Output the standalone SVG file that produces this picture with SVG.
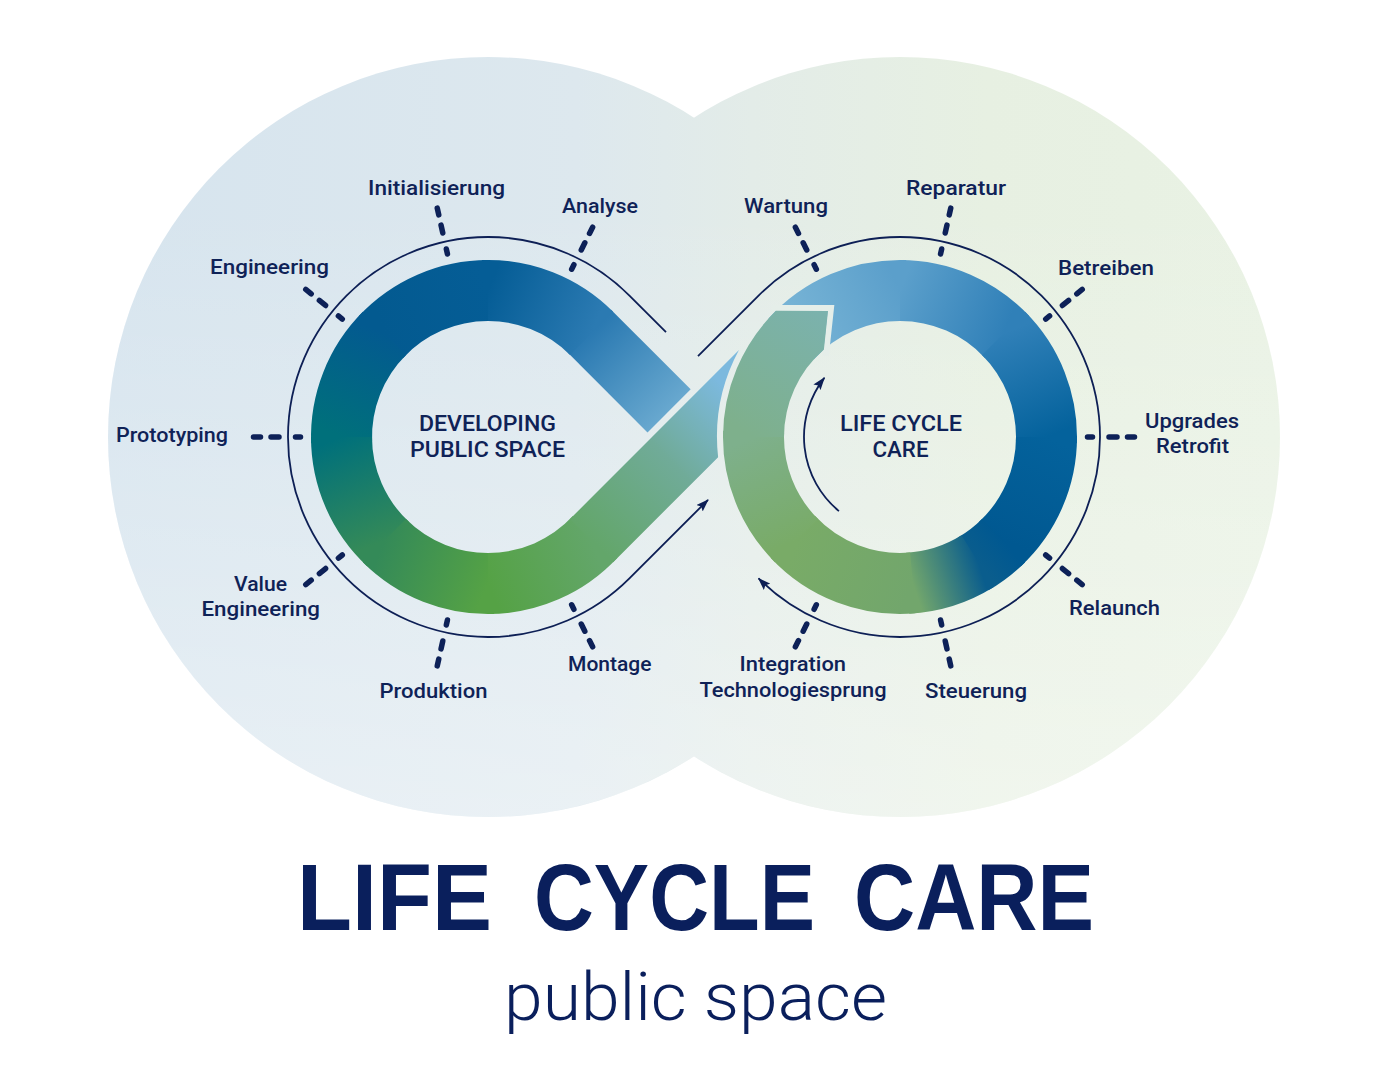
<svg xmlns="http://www.w3.org/2000/svg" width="1389" height="1080" viewBox="0 0 1389 1080">
<style>
.band{fill:none;stroke-width:61;stroke-linecap:butt}
.thin{fill:none;stroke:#0d1f55;stroke-width:1.8}
.tick{fill:none;stroke:#0d2158;stroke-width:5.5;stroke-linecap:round}
.lbl{font-family:Roboto,'Liberation Sans',sans-serif;font-weight:500;font-size:21px;fill:#0f2257}
.ctr{font-family:Roboto,'Liberation Sans',sans-serif;font-weight:500;font-size:22px;fill:#0f2257}
.title{font-family:'Liberation Sans',Arial,sans-serif;font-weight:700;font-size:94px;fill:#0a1f5c}
.sub{font-family:Roboto,'Open Sans','Liberation Sans',sans-serif;font-weight:300;font-size:66px;fill:#0a1f5c}
</style>
<defs>
<linearGradient id="bg" gradientUnits="userSpaceOnUse" x1="108" y1="437" x2="1280" y2="437">
<stop offset="0" stop-color="#d6e4ee"/><stop offset="0.4" stop-color="#dde8ee"/><stop offset="0.55" stop-color="#e3ece8"/><stop offset="0.75" stop-color="#e7f0e2"/><stop offset="1" stop-color="#e9f2e4"/>
</linearGradient>
<linearGradient id="bgFade" gradientUnits="userSpaceOnUse" x1="0" y1="200" x2="0" y2="820">
<stop offset="0" stop-color="#ffffff" stop-opacity="0"/><stop offset="1" stop-color="#ffffff" stop-opacity="0.4"/>
</linearGradient>
<clipPath id="bgClip"><circle cx="488" cy="437" r="380"/><circle cx="900" cy="437" r="380"/></clipPath>
<linearGradient id="gA" gradientUnits="userSpaceOnUse" x1="669.09" y1="410.91" x2="591.59" y2="333.41"><stop offset="0" stop-color="#68a8cf"/><stop offset="1" stop-color="#2b7ab2"/></linearGradient>
<linearGradient id="gB" gradientUnits="userSpaceOnUse" x1="591.59" y1="333.41" x2="488" y2="290.5"><stop offset="0" stop-color="#2b7ab2"/><stop offset="1" stop-color="#055d96"/></linearGradient>
<linearGradient id="gC" gradientUnits="userSpaceOnUse" x1="488" y1="290.5" x2="384.41" y2="333.41"><stop offset="0" stop-color="#055d96"/><stop offset="1" stop-color="#035a90"/></linearGradient>
<linearGradient id="gD" gradientUnits="userSpaceOnUse" x1="384.41" y1="333.41" x2="341.5" y2="437"><stop offset="0" stop-color="#035a90"/><stop offset="1" stop-color="#00707b"/></linearGradient>
<linearGradient id="gE" gradientUnits="userSpaceOnUse" x1="341.5" y1="437" x2="384.41" y2="540.59"><stop offset="0" stop-color="#00707b"/><stop offset="1" stop-color="#348a58"/></linearGradient>
<linearGradient id="gF" gradientUnits="userSpaceOnUse" x1="384.41" y1="540.59" x2="488" y2="583.5"><stop offset="0" stop-color="#348a58"/><stop offset="1" stop-color="#55a245"/></linearGradient>
<linearGradient id="gG" gradientUnits="userSpaceOnUse" x1="488" y1="583.5" x2="591.59" y2="540.59"><stop offset="0" stop-color="#55a245"/><stop offset="1" stop-color="#63a66a"/></linearGradient>
<linearGradient id="gDiag" gradientUnits="userSpaceOnUse" x1="591.59" y1="540.59" x2="735" y2="397"><stop offset="0" stop-color="#63a66a"/><stop offset="0.55" stop-color="#70ab98"/><stop offset="1" stop-color="#7cb9de"/></linearGradient>
<linearGradient id="gR1" gradientUnits="userSpaceOnUse" x1="791.13" y1="338.98" x2="900" y2="290.5"><stop offset="0" stop-color="#79b5d6"/><stop offset="1" stop-color="#5b9fcb"/></linearGradient>
<linearGradient id="gR2" gradientUnits="userSpaceOnUse" x1="900" y1="290.5" x2="1003.59" y2="333.41"><stop offset="0" stop-color="#5b9fcb"/><stop offset="1" stop-color="#3080b8"/></linearGradient>
<linearGradient id="gR3" gradientUnits="userSpaceOnUse" x1="1003.59" y1="333.41" x2="1046.5" y2="437"><stop offset="0" stop-color="#3080b8"/><stop offset="1" stop-color="#04629c"/></linearGradient>
<linearGradient id="gR4" gradientUnits="userSpaceOnUse" x1="1046.5" y1="437" x2="1003.59" y2="540.59"><stop offset="0" stop-color="#04629c"/><stop offset="1" stop-color="#005891"/></linearGradient>
<linearGradient id="gR5" gradientUnits="userSpaceOnUse" x1="1003.59" y1="540.59" x2="977.63" y2="561.23"><stop offset="0" stop-color="#005891"/><stop offset="1" stop-color="#0a5d8d"/></linearGradient>
<linearGradient id="gRT" gradientUnits="userSpaceOnUse" x1="977.63" y1="561.23" x2="912.77" y2="582.94"><stop offset="0" stop-color="#0a5d8d"/><stop offset="1" stop-color="#72a66c"/></linearGradient>
<linearGradient id="gRG1" gradientUnits="userSpaceOnUse" x1="912.77" y1="582.94" x2="796.41" y2="540.59"><stop offset="0" stop-color="#72a66c"/><stop offset="1" stop-color="#79ab67"/></linearGradient>
<linearGradient id="gRG2" gradientUnits="userSpaceOnUse" x1="796.41" y1="540.59" x2="753.5" y2="437"><stop offset="0" stop-color="#79ab67"/><stop offset="1" stop-color="#7eb08c"/></linearGradient>
<linearGradient id="gRG3" gradientUnits="userSpaceOnUse" x1="753.5" y1="437" x2="828" y2="311"><stop offset="0" stop-color="#7eb08c"/><stop offset="1" stop-color="#7bb2ae"/></linearGradient>
<marker id="arrow" viewBox="0 0 13 9" refX="12" refY="4.5" markerWidth="13" markerHeight="9" markerUnits="userSpaceOnUse" orient="auto"><path d="M0,0 L13,4.5 L0,9 L2.5,4.5 Z" fill="#0d1f55"/></marker>
</defs>

<g id="background">
<circle cx="488" cy="437" r="380" fill="url(#bg)"/>
<circle cx="900" cy="437" r="380" fill="url(#bg)"/>
<rect x="100" y="50" width="1190" height="780" fill="url(#bgFade)" clip-path="url(#bgClip)"/>
</g>

<g id="developing-loop">
<path class="band" stroke="url(#gA)" d="M669.09,410.91 L589.5,331.3"/>
<path class="band" stroke="url(#gB)" d="M591.59,333.41 A146.5,146.5 0 0 0 482.89,290.59"/>
<path class="band" stroke="url(#gC)" d="M488,290.5 A146.5,146.5 0 0 0 380.85,337.09"/>
<path class="band" stroke="url(#gD)" d="M384.41,333.41 A146.5,146.5 0 0 0 341.59,442.11"/>
<path class="band" stroke="url(#gE)" d="M341.5,437 A146.5,146.5 0 0 0 388.09,544.15"/>
<path class="band" stroke="url(#gF)" d="M384.41,540.59 A146.5,146.5 0 0 0 493.11,583.41"/>
<path class="band" stroke="url(#gG)" d="M488,583.5 A146.5,146.5 0 0 0 595.15,536.91"/>
<path fill="url(#gDiag)" d="M570.02,519.02 L738.96,350.08 A183,183 0 0 0 718.12,457.2 L613.16,562.16 Z"/>
</g>

<g id="lifecycle-loop">
<path class="band" stroke="url(#gR1)" d="M791.13,338.98 A146.5,146.5 0 0 1 905.11,290.59"/>
<path class="band" stroke="url(#gR2)" d="M900,290.5 A146.5,146.5 0 0 1 1007.15,337.09"/>
<path class="band" stroke="url(#gR3)" d="M1003.59,333.41 A146.5,146.5 0 0 1 1046.41,442.11"/>
<path class="band" stroke="url(#gR4)" d="M1046.5,437 A146.5,146.5 0 0 1 999.91,544.15"/>
<path class="band" stroke="url(#gR5)" d="M1003.59,540.59 A146.5,146.5 0 0 1 973.25,563.87"/>
<path class="band" stroke="url(#gRT)" d="M977.63,561.23 A146.5,146.5 0 0 1 907.67,583.3"/>
<path class="band" stroke="url(#gRG1)" d="M912.77,582.94 A146.5,146.5 0 0 1 792.85,536.91"/>
<path class="band" stroke="url(#gRG2)" d="M796.41,540.59 A146.5,146.5 0 0 1 753.59,431.89"/>
<path fill="none" stroke="#e5eee9" stroke-width="6" d="M772,308 L831,308 L825.8,356"/>
<path fill="url(#gRG3)" d="M723,437 A177,177 0 0 1 775.94,310.75 L828,311 L823.9,349.45 A116,116 0 0 0 784,437 Z"/>
</g>

<g id="connectors">
<path class="thin" marker-end="url(#arrow)" d="M666,332.16 L629.42,295.58 A200,200 0 1 0 629.42,578.42 L708,499.84"/>
<path class="thin" marker-end="url(#arrow)" d="M698,356.16 L758.58,295.58 A200,200 0 1 1 758.58,578.42"/>
<path class="thin" marker-end="url(#arrow)" d="M838.94,511.08 A96,96 0 0 1 824.35,377.89"/>
</g>

<g id="node-developing">
<text class="ctr" x="419" y="431" textLength="137" lengthAdjust="spacingAndGlyphs">DEVELOPING</text>
<text class="ctr" x="410" y="457" textLength="155" lengthAdjust="spacingAndGlyphs">PUBLIC SPACE</text>
</g>
<g id="node-lifecycle">
<text class="ctr" x="840" y="431" textLength="122" lengthAdjust="spacingAndGlyphs">LIFE CYCLE</text>
<text class="ctr" x="872.5" y="457" textLength="56" lengthAdjust="spacingAndGlyphs">CARE</text>
</g>

<g id="node-initialisierung">
<path class="tick" d="M447.42,253.94 L446.34,249.06 M442.77,232.95 L441.04,225.14 M438.77,214.89 L437.25,208.06"/>
<text class="lbl" x="368" y="195" textLength="137" lengthAdjust="spacingAndGlyphs">Initialisierung</text>
</g>
<g id="node-analyse">
<path class="tick" d="M571.66,269.21 L573.89,264.73 M581.26,249.97 L584.83,242.81 M589.51,233.41 L592.63,227.15"/>
<text class="lbl" x="562" y="213" textLength="76" lengthAdjust="spacingAndGlyphs">Analyse</text>
</g>
<g id="node-engineering">
<path class="tick" d="M342.29,319.01 L338.41,315.86 M325.59,305.48 L319.37,300.44 M311.21,293.83 L305.77,289.43"/>
<text class="lbl" x="210" y="274" textLength="119" lengthAdjust="spacingAndGlyphs">Engineering</text>
</g>
<g id="node-prototyping">
<path class="tick" d="M300.5,437 L295.5,437 M279,437 L271,437 M260.5,437 L253.5,437"/>
<text class="lbl" x="116" y="441.5" textLength="112" lengthAdjust="spacingAndGlyphs">Prototyping</text>
</g>
<g id="node-value-engineering">
<path class="tick" d="M342.29,554.99 L338.41,558.14 M325.59,568.52 L319.37,573.56 M311.21,580.17 L305.77,584.57"/>
<text class="lbl" x="234" y="591" textLength="53" lengthAdjust="spacingAndGlyphs">Value</text>
<text class="lbl" x="201.5" y="616" textLength="118.5" lengthAdjust="spacingAndGlyphs">Engineering</text>
</g>
<g id="node-produktion">
<path class="tick" d="M447.42,620.06 L446.34,624.94 M442.77,641.05 L441.04,648.86 M438.77,659.11 L437.25,665.94"/>
<text class="lbl" x="379.5" y="698" textLength="108" lengthAdjust="spacingAndGlyphs">Produktion</text>
</g>
<g id="node-montage">
<path class="tick" d="M571.66,604.79 L573.89,609.27 M581.26,624.03 L584.83,631.19 M589.51,640.59 L592.63,646.85"/>
<text class="lbl" x="568" y="671" textLength="83.5" lengthAdjust="spacingAndGlyphs">Montage</text>
</g>

<g id="node-wartung">
<path class="tick" d="M816.34,269.21 L814.11,264.73 M806.74,249.97 L803.17,242.81 M798.49,233.41 L795.37,227.15"/>
<text class="lbl" x="744" y="213" textLength="84" lengthAdjust="spacingAndGlyphs">Wartung</text>
</g>
<g id="node-reparatur">
<path class="tick" d="M940.58,253.94 L941.66,249.06 M945.23,232.95 L946.96,225.14 M949.23,214.89 L950.75,208.06"/>
<text class="lbl" x="906" y="195" textLength="100" lengthAdjust="spacingAndGlyphs">Reparatur</text>
</g>
<g id="node-betreiben">
<path class="tick" d="M1045.71,319.01 L1049.59,315.86 M1062.41,305.48 L1068.63,300.44 M1076.79,293.83 L1082.23,289.43"/>
<text class="lbl" x="1058" y="275" textLength="96" lengthAdjust="spacingAndGlyphs">Betreiben</text>
</g>
<g id="node-upgrades">
<path class="tick" d="M1087.5,437 L1092.5,437 M1109,437 L1117,437 M1127.5,437 L1134.5,437"/>
<text class="lbl" x="1145" y="428" textLength="94" lengthAdjust="spacingAndGlyphs">Upgrades</text>
<text class="lbl" x="1156" y="453" textLength="73" lengthAdjust="spacingAndGlyphs">Retrofit</text>
</g>
<g id="node-relaunch">
<path class="tick" d="M1045.71,554.99 L1049.59,558.14 M1062.41,568.52 L1068.63,573.56 M1076.79,580.17 L1082.23,584.57"/>
<text class="lbl" x="1069" y="615" textLength="91" lengthAdjust="spacingAndGlyphs">Relaunch</text>
</g>
<g id="node-steuerung">
<path class="tick" d="M940.58,620.06 L941.66,624.94 M945.23,641.05 L946.96,648.86 M949.23,659.11 L950.75,665.94"/>
<text class="lbl" x="925" y="698" textLength="102" lengthAdjust="spacingAndGlyphs">Steuerung</text>
</g>
<g id="node-integration">
<path class="tick" d="M816.34,604.79 L814.11,609.27 M806.74,624.03 L803.17,631.19 M798.49,640.59 L795.37,646.85"/>
<text class="lbl" x="739.5" y="671" textLength="106.5" lengthAdjust="spacingAndGlyphs">Integration</text>
<text class="lbl" x="699.5" y="697" textLength="187" lengthAdjust="spacingAndGlyphs">Technologiesprung</text>
</g>

<g id="title">
<text class="title" x="297" y="930" textLength="195" lengthAdjust="spacingAndGlyphs">LIFE</text>
<text class="title" x="534" y="930" textLength="281" lengthAdjust="spacingAndGlyphs">CYCLE</text>
<text class="title" x="854" y="930" textLength="240" lengthAdjust="spacingAndGlyphs">CARE</text>
<text class="sub" x="504" y="1020" textLength="383" lengthAdjust="spacingAndGlyphs">public space</text>
</g>
</svg>
